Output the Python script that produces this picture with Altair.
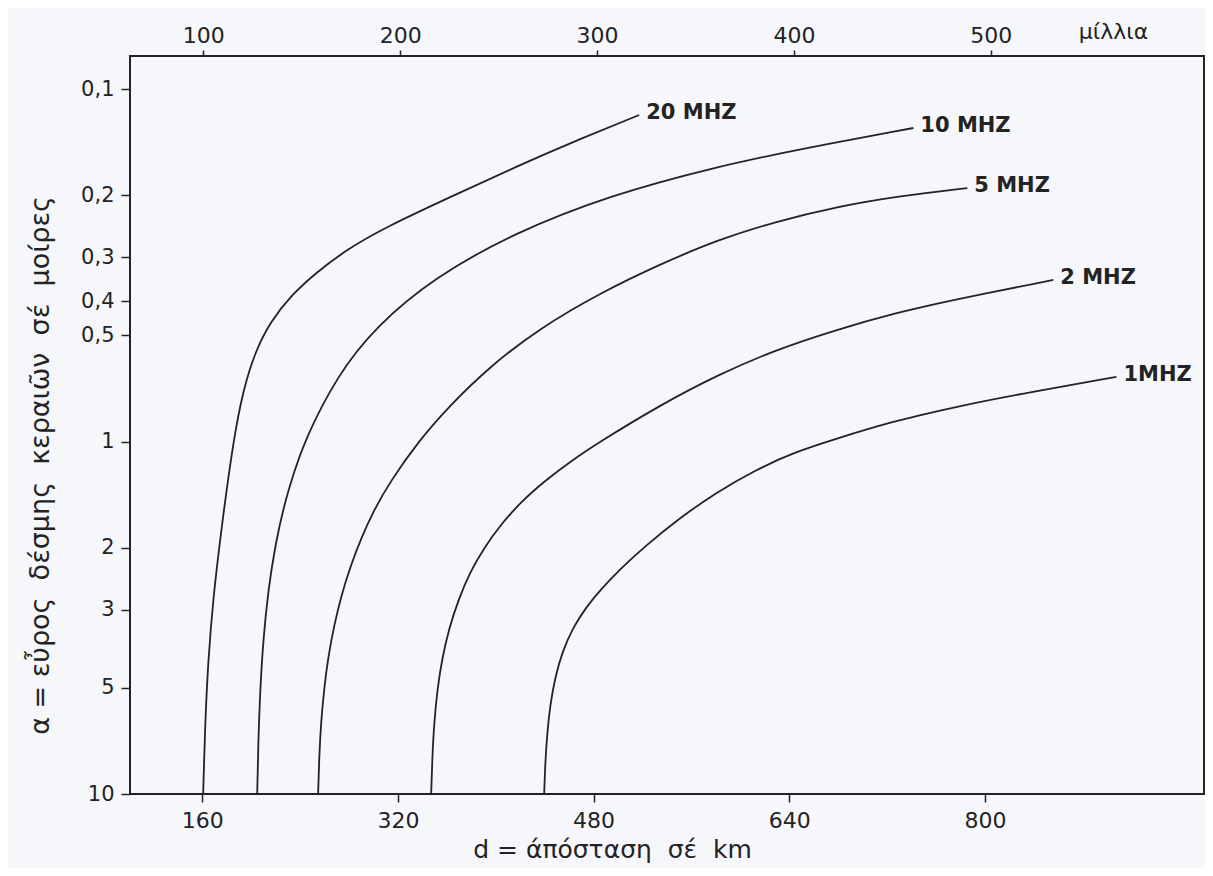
import altair as alt
import pandas as pd

# ---- data (distance d in km, beam width a in degrees) ----
freq_names = ["20 MHZ", "10 MHZ", "5 MHZ", "2 MHZ", "1MHZ"]

km_20 = [160.8, 162.5, 164.9, 169.0, 175.5, 185.3, 193.5, 203.3, 215.6, 233.6, 253.2,
         277.7, 310.4, 367.7, 416.7, 465.8, 517.3]
a_20 = [10, 6.21, 4.19, 2.78, 1.79, 1.0, 0.714, 0.557, 0.458, 0.382, 0.332,
        0.286, 0.246, 0.199, 0.166, 0.140, 0.1185]

km_10 = [205.0, 205.8, 207.4, 209.9, 214.0, 219.7, 227.0, 235.2, 243.4, 269.6, 301.5,
         350.5, 415.1, 493.6, 581.1, 644.9, 741.4]
a_10 = [10, 7.26, 5.07, 3.66, 2.64, 1.97, 1.51, 1.22, 1.0, 0.656, 0.473,
        0.341, 0.256, 0.200, 0.166, 0.149, 0.129]

km_5 = [254.8, 255.7, 257.3, 259.8, 263.0, 267.9, 273.7, 281.0, 290.0, 300.6, 313.7,
        336.6, 362.8, 395.5, 436.4, 485.4, 534.5, 581.1, 628.5, 677.6, 730.7, 785.5]
a_5 = [10, 7.75, 6.17, 5.0, 4.09, 3.32, 2.74, 2.27, 1.88, 1.56, 1.30,
       1.0, 0.788, 0.611, 0.476, 0.379, 0.314, 0.268, 0.238, 0.216, 0.201, 0.191]

km_2 = [347.2, 348.1, 349.7, 352.2, 356.2, 362.0, 369.3, 379.1, 390.6, 403.7, 420.0,
        440.5, 462.5, 485.4, 534.5, 581.1, 628.5, 677.6, 726.6, 773.2, 855.8]
a_2 = [10, 7.91, 6.25, 5.07, 4.11, 3.38, 2.82, 2.34, 2.0, 1.73, 1.49,
       1.29, 1.13, 1.0, 0.788, 0.648, 0.550, 0.483, 0.432, 0.397, 0.348]

km_1 = [439.6, 440.5, 442.1, 444.5, 448.6, 454.4, 463.3, 474.0, 485.4, 501.8, 522.2,
        549.2, 579.5, 613.0, 644.9, 677.6, 722.5, 773.2, 837.0, 907.4]
a_1 = [10, 8.12, 6.71, 5.59, 4.66, 3.95, 3.36, 2.95, 2.64, 2.30, 1.98,
       1.66, 1.40, 1.20, 1.07, 0.984, 0.881, 0.80, 0.724, 0.656]

km_ticks = [160, 320, 480, 640, 800]
mile_ticks = [100, 200, 300, 400, 500]
a_ticks = [0.1, 0.2, 0.3, 0.4, 0.5, 1, 2, 3, 5, 10]

KM_PER_MILE = 1.60934

series = [(freq_names[0], km_20, a_20), (freq_names[1], km_10, a_10),
          (freq_names[2], km_5, a_5), (freq_names[3], km_2, a_2),
          (freq_names[4], km_1, a_1)]

rows = []
for name, ks, avals in series:
    for i, (k, a) in enumerate(zip(ks, avals)):
        rows.append({"freq": name, "km": k, "a": a, "i": i})
df = pd.DataFrame(rows)

lab = pd.DataFrame({
    "freq": [s[0] for s in series],
    "km": [s[1][-1] for s in series],
    "a": [s[2][-1] for s in series],
})

INK = "#232323"
FONT = "DejaVu Sans"
GAP = "\u00a0\u00a0"

y_title = "α\u00a0=\u00a0εὖρος" + GAP + "δέσμης" + GAP + "κεραιῶν" + GAP + "σέ" + GAP + "μοίρες"
x_title = "d\u00a0=\u00a0άπόσταση" + GAP + "σέ" + GAP + "km"

x_scale = alt.Scale(domain=[101, 979], nice=False, zero=False)
y_scale = alt.Scale(type="log", domain=[0.0806, 10], nice=False, reverse=True)

y_axis = alt.Axis(
    values=a_ticks,
    labelExpr="replace(toString(datum.value), '.', ',')",
    tickSize=9, tickColor=INK, tickWidth=1.5,
    labelPadding=7, labelFontSize=21, labelFont=FONT, labelColor=INK,
    domain=False, grid=False,
    title=y_title,
    titleFont=FONT, titleFontSize=27, titleFontWeight="normal", titleColor=INK,
    titleX=-90, titleY=409, titleAlign="center", titleBaseline="middle", titleAngle=270,
)

x_axis_bottom = alt.Axis(
    orient="bottom", values=km_ticks, format="d",
    tickSize=8, tickColor=INK, tickWidth=1.5,
    labelPadding=8, labelFontSize=22, labelFont=FONT, labelColor=INK,
    domain=False, grid=False,
    title=x_title,
    titleFont=FONT, titleFontSize=25, titleFontWeight="normal", titleColor=INK,
    titleX=482, titleY=55, titleAlign="center", titleBaseline="middle",
)

x_axis_top = alt.Axis(
    orient="top", values=[m * KM_PER_MILE for m in mile_ticks],
    labelExpr="format(round(datum.value / 1.60934), 'd')",
    tickSize=6, tickColor=INK, tickWidth=1.5,
    labelPadding=3, labelFontSize=22, labelFont=FONT, labelColor=INK,
    domain=False, grid=False,
    title="μίλλια",
    titleFont=FONT, titleFontSize=22, titleFontWeight="normal", titleColor=INK,
    titleX=983, titleY=-25, titleAlign="center", titleBaseline="middle",
)

lines = alt.Chart(df).mark_line(color=INK, strokeWidth=1.8, interpolate="basis").encode(
    x=alt.X("km:Q", scale=x_scale, axis=x_axis_bottom),
    y=alt.Y("a:Q", scale=y_scale, axis=y_axis),
    detail="freq:N",
    order="i:Q",
)

labels = alt.Chart(lab).mark_text(
    align="left", baseline="middle", dx=7, dy=-2,
    font=FONT, fontSize=21, fontWeight="bold", color=INK,
).encode(
    x=alt.X("km:Q", scale=x_scale, axis=x_axis_top),
    y=alt.Y("a:Q", scale=y_scale),
    text="freq:N",
)

chart = alt.layer(lines, labels).resolve_axis(x="independent").properties(
    width=1074, height=738,
    padding={"left": 122, "top": 48, "right": 1, "bottom": 74},
    autosize=alt.AutoSizeParams(type="none"),
    background="#f6f7fb",
).configure_view(stroke=INK, strokeWidth=2)

chart.save("out.html", embed_options={"renderer": "svg", "actions": False})
